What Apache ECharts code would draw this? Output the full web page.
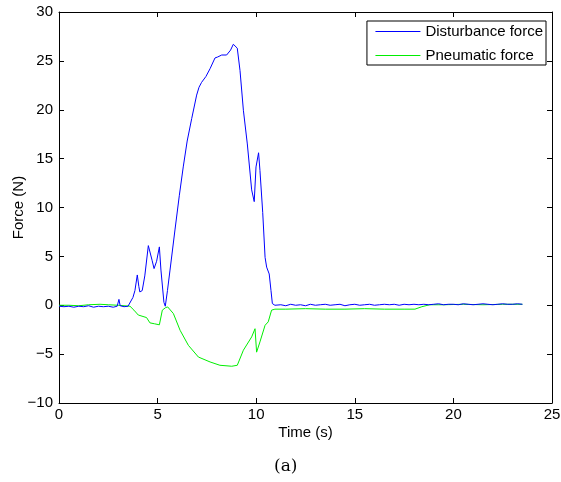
<!DOCTYPE html>
<html>
<head>
<meta charset="utf-8">
<script src="https://cdn.jsdelivr.net/npm/echarts@6/dist/echarts.min.js"></script>
<style>
html, body {margin: 0; padding: 0; background: #fff;}
#main {width: 561px; height: 482px;}
</style>
</head>
<body>
<div id="main"></div>
<script>
// 数据
const distTime = [0, 0.25, 0.5, 0.75, 1.0, 1.25, 1.5, 1.75, 2.0, 2.25, 2.5, 2.75, 2.95, 3.04, 3.1, 3.3, 3.5, 3.6,
    3.75, 3.85, 3.97, 4.05, 4.1, 4.22, 4.35, 4.53, 4.61, 4.72, 4.82, 4.95, 5.09, 5.17, 5.32, 5.39, 5.5, 5.63,
    5.88, 6.1, 6.3, 6.5, 6.73, 6.98, 7.1, 7.23, 7.45, 7.66, 7.91, 8.05, 8.25, 8.5, 8.7, 8.84, 9.04, 9.18,
    9.35, 9.55, 9.77, 9.9, 9.99, 10.12, 10.19, 10.33, 10.45, 10.53, 10.66, 10.75, 10.82, 10.95, 11.25, 11.5,
    11.75, 12.0, 12.25, 12.5, 12.75, 13.0, 13.25, 13.5, 13.75, 14.0, 14.25, 14.5, 14.75, 15.0, 15.25, 15.5,
    15.75, 16.0, 16.25, 16.5, 16.75, 17.0, 17.25, 17.5, 17.75, 18.0, 18.25, 18.5, 18.75, 19.0, 19.25, 19.5,
    19.75, 20.0, 20.25, 20.5, 20.75, 21.0, 21.25, 21.5, 21.75, 22.0, 22.25, 22.5, 22.75, 23.0, 23.25, 23.5];
const distForce = [-0.1, -0.15, -0.1, -0.2, -0.1, -0.15, -0.05, -0.2, -0.1, -0.15, -0.1, -0.2, -0.1, 0.6, -0.05, -0.15, -0.1, -0.05,
    0.8, 1.5, 3.1, 1.9, 1.36, 1.5, 3.0, 6.1, 6.1, 4.6, 3.75, 4.5, 5.97, 3.6, 0.3, -0.1, 1.5, 3.6,
    7.7, 11.2, 14.15, 16.8, 19.1, 21.5, 22.3, 22.8, 23.4, 24.2, 25.3, 25.4, 25.6, 25.6, 26.1, 26.7, 26.3, 24.0,
    19.95, 16.5, 11.8, 10.6, 14.15, 15.6, 13.8, 9.5, 4.9, 3.9, 3.2, 1.5, 0.17, 0.0, 0.05, -0.05,
    0.1, 0.0, 0.05, -0.05, 0.1, 0.0, 0.05, 0.1, 0.0, 0.05, 0.1, -0.05, 0.05, 0.1, 0.0, 0.05,
    0.1, 0.0, 0.05, 0.1, 0.05, 0.1, 0.0, 0.1, 0.05, 0.1, 0.05, 0.1, 0.05, 0.1, 0.15, 0.05,
    0.1, 0.1, 0.05, 0.15, 0.1, 0.05, 0.1, 0.15, 0.1, 0.05, 0.1, 0.15, 0.1, 0.1, 0.15, 0.1];

const pneuTime = [0, 0.5, 1.0, 1.5, 2.08, 2.5, 3.0, 3.6, 3.8, 4.02, 4.44, 4.61, 4.85, 5.09, 5.24, 5.4, 5.51,
    5.8, 6.14, 6.56, 7.07, 7.66, 8.16, 8.76, 9.04, 9.35, 9.77, 9.94, 10.02, 10.19, 10.45, 10.61, 10.78,
    10.95, 11.5, 12.5, 13.5, 14.5, 15.5, 16.5, 17.5, 18.05, 18.4, 18.8, 19.5, 20.5, 21.5, 22.5, 23.5];
const pneuForce = [0.0, 0.0, -0.05, 0.05, 0.1, 0.05, 0.0, -0.1, -0.5, -1.0, -1.26, -1.8, -1.9, -2.0, -0.5, -0.25, -0.17,
    -0.85, -2.56, -4.1, -5.3, -5.8, -6.14, -6.24, -6.14, -4.6, -3.24, -2.4, -4.8, -3.75, -2.05, -1.7, -0.5,
    -0.4, -0.4, -0.35, -0.4, -0.4, -0.35, -0.4, -0.4, -0.4, -0.15, 0.05, 0.05, 0.1, 0.05, 0.1, 0.1];

const distData = distTime.map((t, i) => [t, distForce[i]]);
const pneuData = pneuTime.map((t, i) => [t, pneuForce[i]]);

const chart = echarts.init(document.getElementById('main'));

const fontName = 'Liberation Sans';
const axisLineStyle = {show: true, onZero: false, lineStyle: {color: '#000', width: 1}};
const tickStyle = {show: true, inside: true, length: 5, lineStyle: {color: '#000'}};

const option = {
    animation: false,
    title: {
        text: '(a)',
        left: 269,
        top: 453,
        textStyle: {fontFamily: 'DejaVu Serif', fontSize: 17, fontWeight: 'normal', color: '#000'}
    },
    legend: {
        right: 15,
        top: 21,
        orient: 'vertical',
        itemWidth: 45,
        itemHeight: 14,
        itemGap: 9,
        padding: [3, 3, 2, 8],
        borderColor: '#000',
        borderWidth: 1,
        borderRadius: 0,
        itemStyle: {opacity: 0},
        lineStyle: {width: 1},
        textStyle: {fontFamily: fontName, fontSize: 15, color: '#000'},
        data: ['Disturbance force', 'Pneumatic force']
    },
    grid: {left: 59, right: 9, top: 12, bottom: 79, outerBoundsMode: 'none'},
    xAxis: [{
        type: 'value',
        min: 0, max: 25, interval: 5,
        name: 'Time (s)',
        nameLocation: 'middle',
        nameGap: 22,
        nameMoveOverlap: false,
        nameTextStyle: {fontFamily: fontName, fontSize: 15, color: '#000'},
        axisLine: axisLineStyle,
        axisTick: tickStyle,
        axisLabel: {fontFamily: fontName, fontSize: 15, color: '#000', margin: 4},
        splitLine: {show: false}
    }, {
        type: 'value',
        position: 'top',
        min: 0, max: 25, interval: 5,
        axisLine: axisLineStyle,
        axisTick: tickStyle,
        axisLabel: {show: false},
        splitLine: {show: false}
    }],
    yAxis: [{
        type: 'value',
        min: -10, max: 30, interval: 5,
        name: 'Force (N)',
        nameLocation: 'middle',
        nameGap: 33,
        nameMoveOverlap: false,
        nameTextStyle: {fontFamily: fontName, fontSize: 15, color: '#000'},
        axisLine: axisLineStyle,
        axisTick: tickStyle,
        axisLabel: {
            fontFamily: fontName, fontSize: 15, color: '#000', margin: 6,
            formatter: v => String(v).replace('-', '\u2212')
        },
        splitLine: {show: false}
    }, {
        type: 'value',
        position: 'right',
        min: -10, max: 30, interval: 5,
        axisLine: axisLineStyle,
        axisTick: tickStyle,
        axisLabel: {show: false},
        splitLine: {show: false}
    }],
    series: [{
        name: 'Disturbance force',
        type: 'line',
        symbol: 'none',
        data: distData,
        itemStyle: {color: '#0000ff'},
        lineStyle: {color: '#0000ff', width: 1},
        z: 3
    }, {
        name: 'Pneumatic force',
        type: 'line',
        symbol: 'none',
        data: pneuData,
        itemStyle: {color: '#00ee00'},
        lineStyle: {color: '#00ee00', width: 1},
        z: 2
    }]
};

chart.setOption(option);
</script>
</body>
</html>
